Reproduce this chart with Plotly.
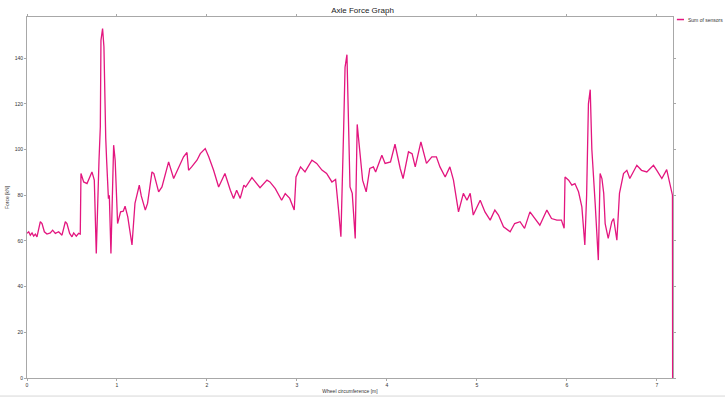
import plotly.graph_objects as go

# Wheel circumference [m]
x_vals = [
    0.000, 0.019, 0.037, 0.056, 0.074, 0.093, 0.111, 0.130, 0.148, 0.167,
    0.193, 0.222, 0.259, 0.285, 0.315, 0.352, 0.389, 0.426, 0.444, 0.474,
    0.500, 0.519, 0.548, 0.574, 0.592, 0.600, 0.630, 0.667, 0.722, 0.748,
    0.770, 0.800, 0.815, 0.822, 0.840, 0.855, 0.862, 0.875, 0.885, 0.896,
    0.905, 0.915, 0.933, 0.963, 0.980, 1.007, 1.040, 1.070, 1.090, 1.120,
    1.167, 1.200, 1.248, 1.270, 1.315, 1.340, 1.389, 1.410, 1.463, 1.500,
    1.574, 1.630, 1.685, 1.740, 1.778, 1.796, 1.830, 1.889, 1.926, 1.981,
    2.020, 2.074, 2.130, 2.170, 2.200, 2.260, 2.296, 2.330, 2.370, 2.410,
    2.430, 2.500, 2.590, 2.667, 2.700, 2.760, 2.830, 2.870, 2.920, 2.970,
    2.990, 3.040, 3.090, 3.167, 3.220, 3.278, 3.330, 3.389, 3.430, 3.463,
    3.489, 3.520, 3.535, 3.556, 3.575, 3.590, 3.615, 3.648, 3.670, 3.700,
    3.730, 3.770, 3.810, 3.850, 3.875, 3.944, 3.980, 4.040, 4.090, 4.148,
    4.180, 4.240, 4.280, 4.315, 4.378, 4.440, 4.500, 4.550, 4.590, 4.648,
    4.700, 4.740, 4.796, 4.850, 4.890, 4.926, 4.960, 5.037, 5.090, 5.148,
    5.200, 5.240, 5.296, 5.370, 5.420, 5.480, 5.530, 5.590, 5.650, 5.700,
    5.778, 5.830, 5.889, 5.940, 5.970, 5.980, 6.020, 6.056, 6.090, 6.130,
    6.167, 6.200, 6.220, 6.240, 6.260, 6.278, 6.315, 6.350, 6.370, 6.390,
    6.410, 6.426, 6.460, 6.500, 6.520, 6.556, 6.585, 6.630, 6.667, 6.700,
    6.778, 6.830, 6.889, 6.963, 7.000, 7.056, 7.110, 7.148, 7.174, 7.176,
]

# Force [kN]
force_vals = [
    63.3, 64.0, 62.5, 63.5, 62.1, 63.0, 61.8, 65.5, 68.4, 67.6,
    64.0, 63.0, 63.5, 64.7, 63.3, 64.0, 62.5, 68.4, 67.6, 63.3,
    61.8, 63.5, 62.1, 63.3, 63.0, 89.5, 85.8, 85.1, 90.2, 86.6,
    54.5, 95.0, 110.0, 147.8, 152.9, 145.0, 127.0, 105.0, 95.3, 81.5,
    78.5, 80.0, 54.5, 101.9, 95.3, 67.6, 72.7, 73.0, 75.2, 70.5,
    58.2, 76.4, 84.4, 79.7, 73.5, 76.4, 90.2, 89.5, 81.5, 83.6,
    94.6, 87.3, 92.4, 96.8, 98.7, 90.9, 92.4, 95.3, 98.2, 100.4,
    96.8, 90.9, 83.6, 87.3, 89.5, 82.2, 78.6, 82.2, 78.6, 84.4,
    83.6, 87.7, 83.3, 86.6, 85.8, 82.9, 77.8, 80.7, 78.6, 73.5,
    88.0, 92.4, 90.2, 95.3, 93.9, 91.0, 89.5, 85.8, 86.9, 73.5,
    61.8, 110.0, 136.0, 141.5, 110.0, 83.6, 80.8, 61.1, 111.0, 99.7,
    86.6, 81.5, 91.7, 92.4, 90.2, 97.5, 93.9, 94.6, 102.3, 91.7,
    87.3, 99.0, 98.2, 92.4, 103.3, 93.9, 96.8, 96.8, 92.4, 88.0,
    92.4, 86.6, 72.7, 80.8, 77.8, 80.8, 71.3, 77.8, 72.7, 69.1,
    73.5, 71.3, 66.2, 64.0, 67.6, 68.4, 65.5, 72.7, 69.8, 66.9,
    73.5, 69.8, 69.1, 69.1, 65.5, 88.0, 86.6, 84.4, 85.1, 81.5,
    74.9, 58.2, 80.0, 120.0, 126.2, 100.0, 76.4, 51.6, 89.5, 87.3,
    80.8, 67.6, 61.1, 68.4, 69.8, 60.3, 80.8, 89.5, 90.9, 87.3,
    93.1, 90.9, 90.2, 93.1, 90.9, 87.3, 91.2, 85.1, 80.0, 0.0,
]

x_ticks = [0, 1, 2, 3, 4, 5, 6, 7]
y_ticks = [0, 20, 40, 60, 80, 100, 120, 140]

series_name = "Sum of sensors"
line_color = "#e3167f"
font_family = "Liberation Sans, Arial, sans-serif"

fig = go.Figure()
fig.add_trace(go.Scatter(
    x=x_vals, y=force_vals, mode="lines", name=series_name,
    line=dict(color=line_color, width=1.3), showlegend=False,
))

axis_common = dict(
    showgrid=False, zeroline=False, showline=True, linecolor="#a8a8a8",
    linewidth=1, mirror="ticks", ticks="outside", ticklen=2,
    tickcolor="#a8a8a8", automargin=False,
    tickfont=dict(size=5, color="#333333", family=font_family),
)

fig.update_layout(
    width=725, height=398,
    margin=dict(l=27, r=52, t=17, b=20),
    paper_bgcolor="white", plot_bgcolor="white",
    title=dict(text="Axle Force Graph", x=0.5, xanchor="center",
               y=0.975, yanchor="middle",
               font=dict(size=8, color="#222222", family=font_family)),
    xaxis=dict(range=[0, 7.18], tickvals=x_ticks,
               title=dict(text="Wheel circumference [m]", standoff=2,
                          font=dict(size=5, color="#333333", family=font_family)),
               **axis_common),
    yaxis=dict(range=[0, 158], tickvals=y_ticks,
               title=dict(text="Force [kN]", standoff=4,
                          font=dict(size=5, color="#333333", family=font_family)),
               **axis_common),
    shapes=[
        # legend key
        dict(type="line", xref="paper", yref="paper",
             x0=1.006, x1=1.017, y0=0.993, y1=0.993,
             line=dict(color=line_color, width=1.5)),
        # window separator at the bottom
        dict(type="line", xref="paper", yref="paper",
             x0=-0.05, x1=1.09, y0=-0.05, y1=-0.05,
             line=dict(color="#d8d8d8", width=1)),
    ],
    annotations=[
        dict(text=series_name, xref="paper", yref="paper", x=1.02, y=0.993,
             xanchor="left", yanchor="middle", showarrow=False,
             font=dict(size=5, color="#333333", family=font_family)),
    ],
)

fig.write_html("out.html")
